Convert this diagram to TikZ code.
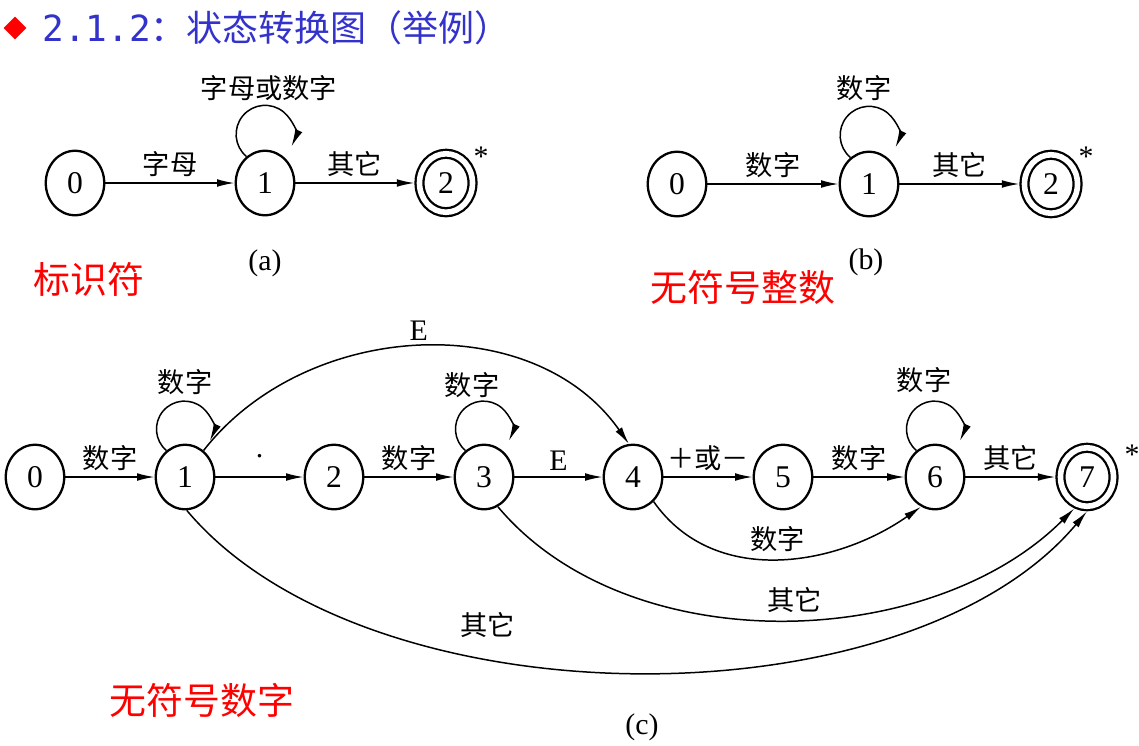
\documentclass[tikz,border=0pt]{standalone}
\usepackage{fontspec}
\setmainfont{Liberation Serif}
\newfontfamily\cjk{Noto Sans CJK SC}
\newfontfamily\monofont{DejaVu Sans Mono}
\usetikzlibrary{arrows.meta,shapes.geometric}
\definecolor{titleblue}{RGB}{51,51,204}

\begin{document}
\begin{tikzpicture}[x=0.02cm, y=-0.02cm,
    st/.style={ellipse, draw, line width=1.3pt, minimum width=1.17cm, minimum height=1.29cm, inner sep=0pt, font=\fontsize{18}{20}\selectfont},
    acc/.style={st, double, double distance=3.2pt, minimum width=1.06cm, minimum height=1.17cm, outer sep=2.9pt},
    arr/.style={-{Latex[length=10pt,width=4.4pt]}, line width=0.85pt},
    lab/.style={font=\cjk\fontsize{15.5}{18}\selectfont},
    num/.style={font=\fontsize{17}{20}\selectfont},
    tag/.style={text=red, font=\cjk\fontsize{21}{24}\selectfont}]

    \useasboundingbox (0,0) rectangle (1139,745);

    \node[diamond, fill=red, minimum size=0.46cm, inner sep=0pt] (dia) at (15,28) {};
    \node[anchor=west, inner sep=0pt, text=titleblue, font=\cjk\fontsize{20.5}{24}\selectfont] (title) at (42,28) {{\monofont 2.1.2}：状态转换图（举例）};

    % (a)
    \node[st] (a0) at (75,183) {0};
    \node[st] (a1) at (265,183) {1};
    \node[acc] (a2) at (446,183) {2};
    \node[num] (as) at (481,157) {*};
    \node[lab] (al) at (269,88) {字母或数字};
    \node[num] (ac) at (265,263) {(a)};
    \node[tag] (ta) at (89,279) {标识符};

    \draw [arr] (a0) -- node[above, lab] {字母} (a1);
    \draw [arr] (a1) -- node[above, lab] {其它} (a2);
    \draw [arr] (a1.125) arc[start angle=230, end angle=-25, radius=0.58cm];

    % (b)
    \node[st] (b0) at (677,184) {0};
    \node[st] (b1) at (869,184) {1};
    \node[acc] (b2) at (1051,184) {2};
    \node[num] (bs) at (1086,157) {*};
    \node[lab] (bl) at (864,88) {数字};
    \node[num] (bc) at (866,262) {(b)};
    \node[tag] (tb) at (743,287) {无符号整数};

    \draw [arr] (b0) -- node[above, lab] {数字} (b1);
    \draw [arr] (b1) -- node[above, lab] {其它} (b2);
    \draw [arr] (b1.125) arc[start angle=230, end angle=-25, radius=0.58cm];

    % (c)
    \node[st] (c0) at (35,477) {0};
    \node[st] (c1) at (185,477) {1};
    \node[st] (c2) at (334,477) {2};
    \node[st] (c3) at (484,477) {3};
    \node[st] (c4) at (633,477) {4};
    \node[st] (c5) at (783,477) {5};
    \node[st] (c6) at (935,477) {6};
    \node[acc] (c7) at (1087,477) {7};
    \node[num] (cs) at (1132,455) {*};
    \node[lab] (cl1) at (185,382) {数字};
    \node[lab] (cl3) at (472,385) {数字};
    \node[lab] (cl6) at (924,380) {数字};
    \node[num] (cc) at (642,727) {(c)};
    \node[tag] (tc) at (202,700) {无符号数字};

    \draw [arr] (c0) -- node[above, lab] {数字} (c1);
    \draw [arr] (c1) -- node[above=7pt, num] {.} (c2);
    \draw [arr] (c2) -- node[above, lab] {数字} (c3);
    \draw [arr] (c3) -- node[above, num] {E} (c4);
    \draw [arr] (c4) -- node[above, lab] {＋或－} (c5);
    \draw [arr] (c5) -- node[above, lab] {数字} (c6);
    \draw [arr] (c6) -- node[above, lab] {其它} (c7);
    \draw [arr] (c1.125) arc[start angle=230, end angle=-25, radius=0.56cm];
    \draw [arr] (c3.125) arc[start angle=230, end angle=-25, radius=0.56cm];
    \draw [arr] (c6.125) arc[start angle=230, end angle=-25, radius=0.56cm];
    \draw [arr] (c1.55) to[out=52, in=125] node[above, num] {E} (c4.97);
    \draw [arr] (c4.-50) to[out=-55, in=-145] node[above, lab] {数字} (c6.-115);
    \draw [arr] (c3.-65) to[out=-50, in=-135, looseness=0.9] node[above, lab, pos=0.52] {其它} (c7.-112);
    \draw [arr] (c1.-87) to[out=-50, in=-130, looseness=0.8] node[above=0.3cm, lab, pos=0.36] {其它} (c7.-90);

\end{tikzpicture}
\end{document}
